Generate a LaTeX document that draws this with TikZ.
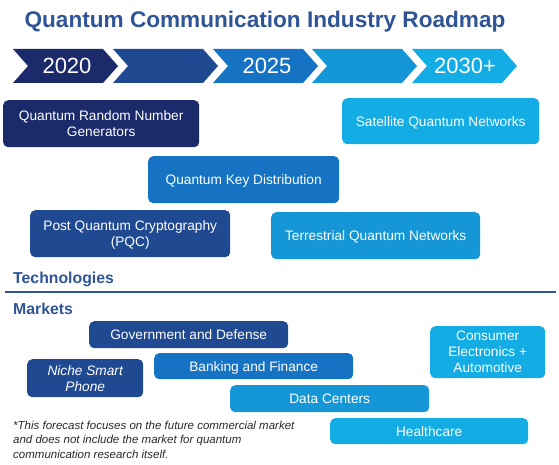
\documentclass[tikz,border=0pt]{standalone}
\usepackage{fontspec}
\setmainfont{Liberation Sans}
\definecolor{cA}{RGB}{27,42,107}
\definecolor{cB}{RGB}{31,73,145}
\definecolor{cC}{RGB}{22,115,196}
\definecolor{cD}{RGB}{20,150,215}
\definecolor{cE}{RGB}{20,172,228}
\definecolor{head}{RGB}{47,85,151}
\definecolor{note}{RGB}{40,40,40}
\tikzset{
  box/.style={rounded corners=5pt, text=white, align=center, inner sep=0pt,
    text depth=0pt, font=\fontsize{13.7}{16}\selectfont, anchor=north west},
  year/.style={text=white, font=\fontsize{22}{24}\selectfont, inner sep=0pt},
  heading/.style={text=head, font=\bfseries\fontsize{15.8}{18}\selectfont, inner sep=0pt, anchor=base west},
}
\begin{document}
\begin{tikzpicture}[x=1pt,y=-1pt]
\useasboundingbox (0,0) rectangle (559,465);
% title
\node[text=head, font=\bfseries\fontsize{22.6}{26}\selectfont, inner sep=0pt, anchor=base] (title) at (265,27.5) {Quantum Communication Industry Roadmap};
% chevrons
\foreach \x/\c in {13/cA,113/cB,213/cC,312/cD,412/cE}{
  \fill[\c] (\x,49) -- (\x+90,49) -- (\x+105,66) -- (\x+90,83) -- (\x,83) -- (\x+15,66) -- cycle;
}
\node[year] (y2020) at (67,66) {2020};
\node[year] (y2025) at (267,66) {2025};
\node[year] (y2030) at (465,66) {2030+};
% technologies
\node[box, fill=cA, minimum width=196pt, minimum height=47pt] (qrng) at (3,100) {Quantum Random Number\\Generators};
\node[box, fill=cC, minimum width=191pt, minimum height=47pt] (qkd) at (148,156) {Quantum Key Distribution};
\node[box, fill=cB, minimum width=200pt, minimum height=47pt] (pqc) at (30,210) {Post Quantum Cryptography\\(PQC)};
\node[box, fill=cE, minimum width=197pt, minimum height=46pt] (sat) at (342,98) {Satellite Quantum Networks};
\node[box, fill=cD, minimum width=209pt, minimum height=47pt] (terr) at (271,212) {Terrestrial Quantum Networks};
\node[heading] (tech) at (13,283) {Technologies};
\coordinate (l1) at (5,292);
\coordinate (l2) at (556,292);
\draw[head, line width=2pt] (l1) -- (l2);
\node[heading] (mk) at (13,314) {Markets};
% markets
\node[box, fill=cB, minimum width=199pt, minimum height=27pt] (gov) at (89,321) {Government and Defense};
\node[box, fill=cB, minimum width=116pt, minimum height=38pt, font=\itshape\fontsize{13.7}{16}\selectfont] (niche) at (27,359) {Niche Smart\\Phone};
\node[box, fill=cC, minimum width=199pt, minimum height=26pt] (bank) at (154,353) {Banking and Finance};
\node[box, fill=cD, minimum width=199pt, minimum height=27pt] (data) at (230,385) {Data Centers};
\node[box, fill=cE, minimum width=198pt, minimum height=26pt] (health) at (330,418) {Healthcare};
\node[box, fill=cE, minimum width=115pt, minimum height=52pt] (cons) at (430,326) {Consumer\\Electronics +\\Automotive};
% footnote
\node[text=note, font=\itshape\fontsize{11.5}{14.5}\selectfont, align=left, inner sep=0pt, anchor=north west] (fn) at (13,420.5) {*This forecast focuses on the future commercial market\\and does not include the market for quantum\\communication research itself.};
\end{tikzpicture}
\end{document}
